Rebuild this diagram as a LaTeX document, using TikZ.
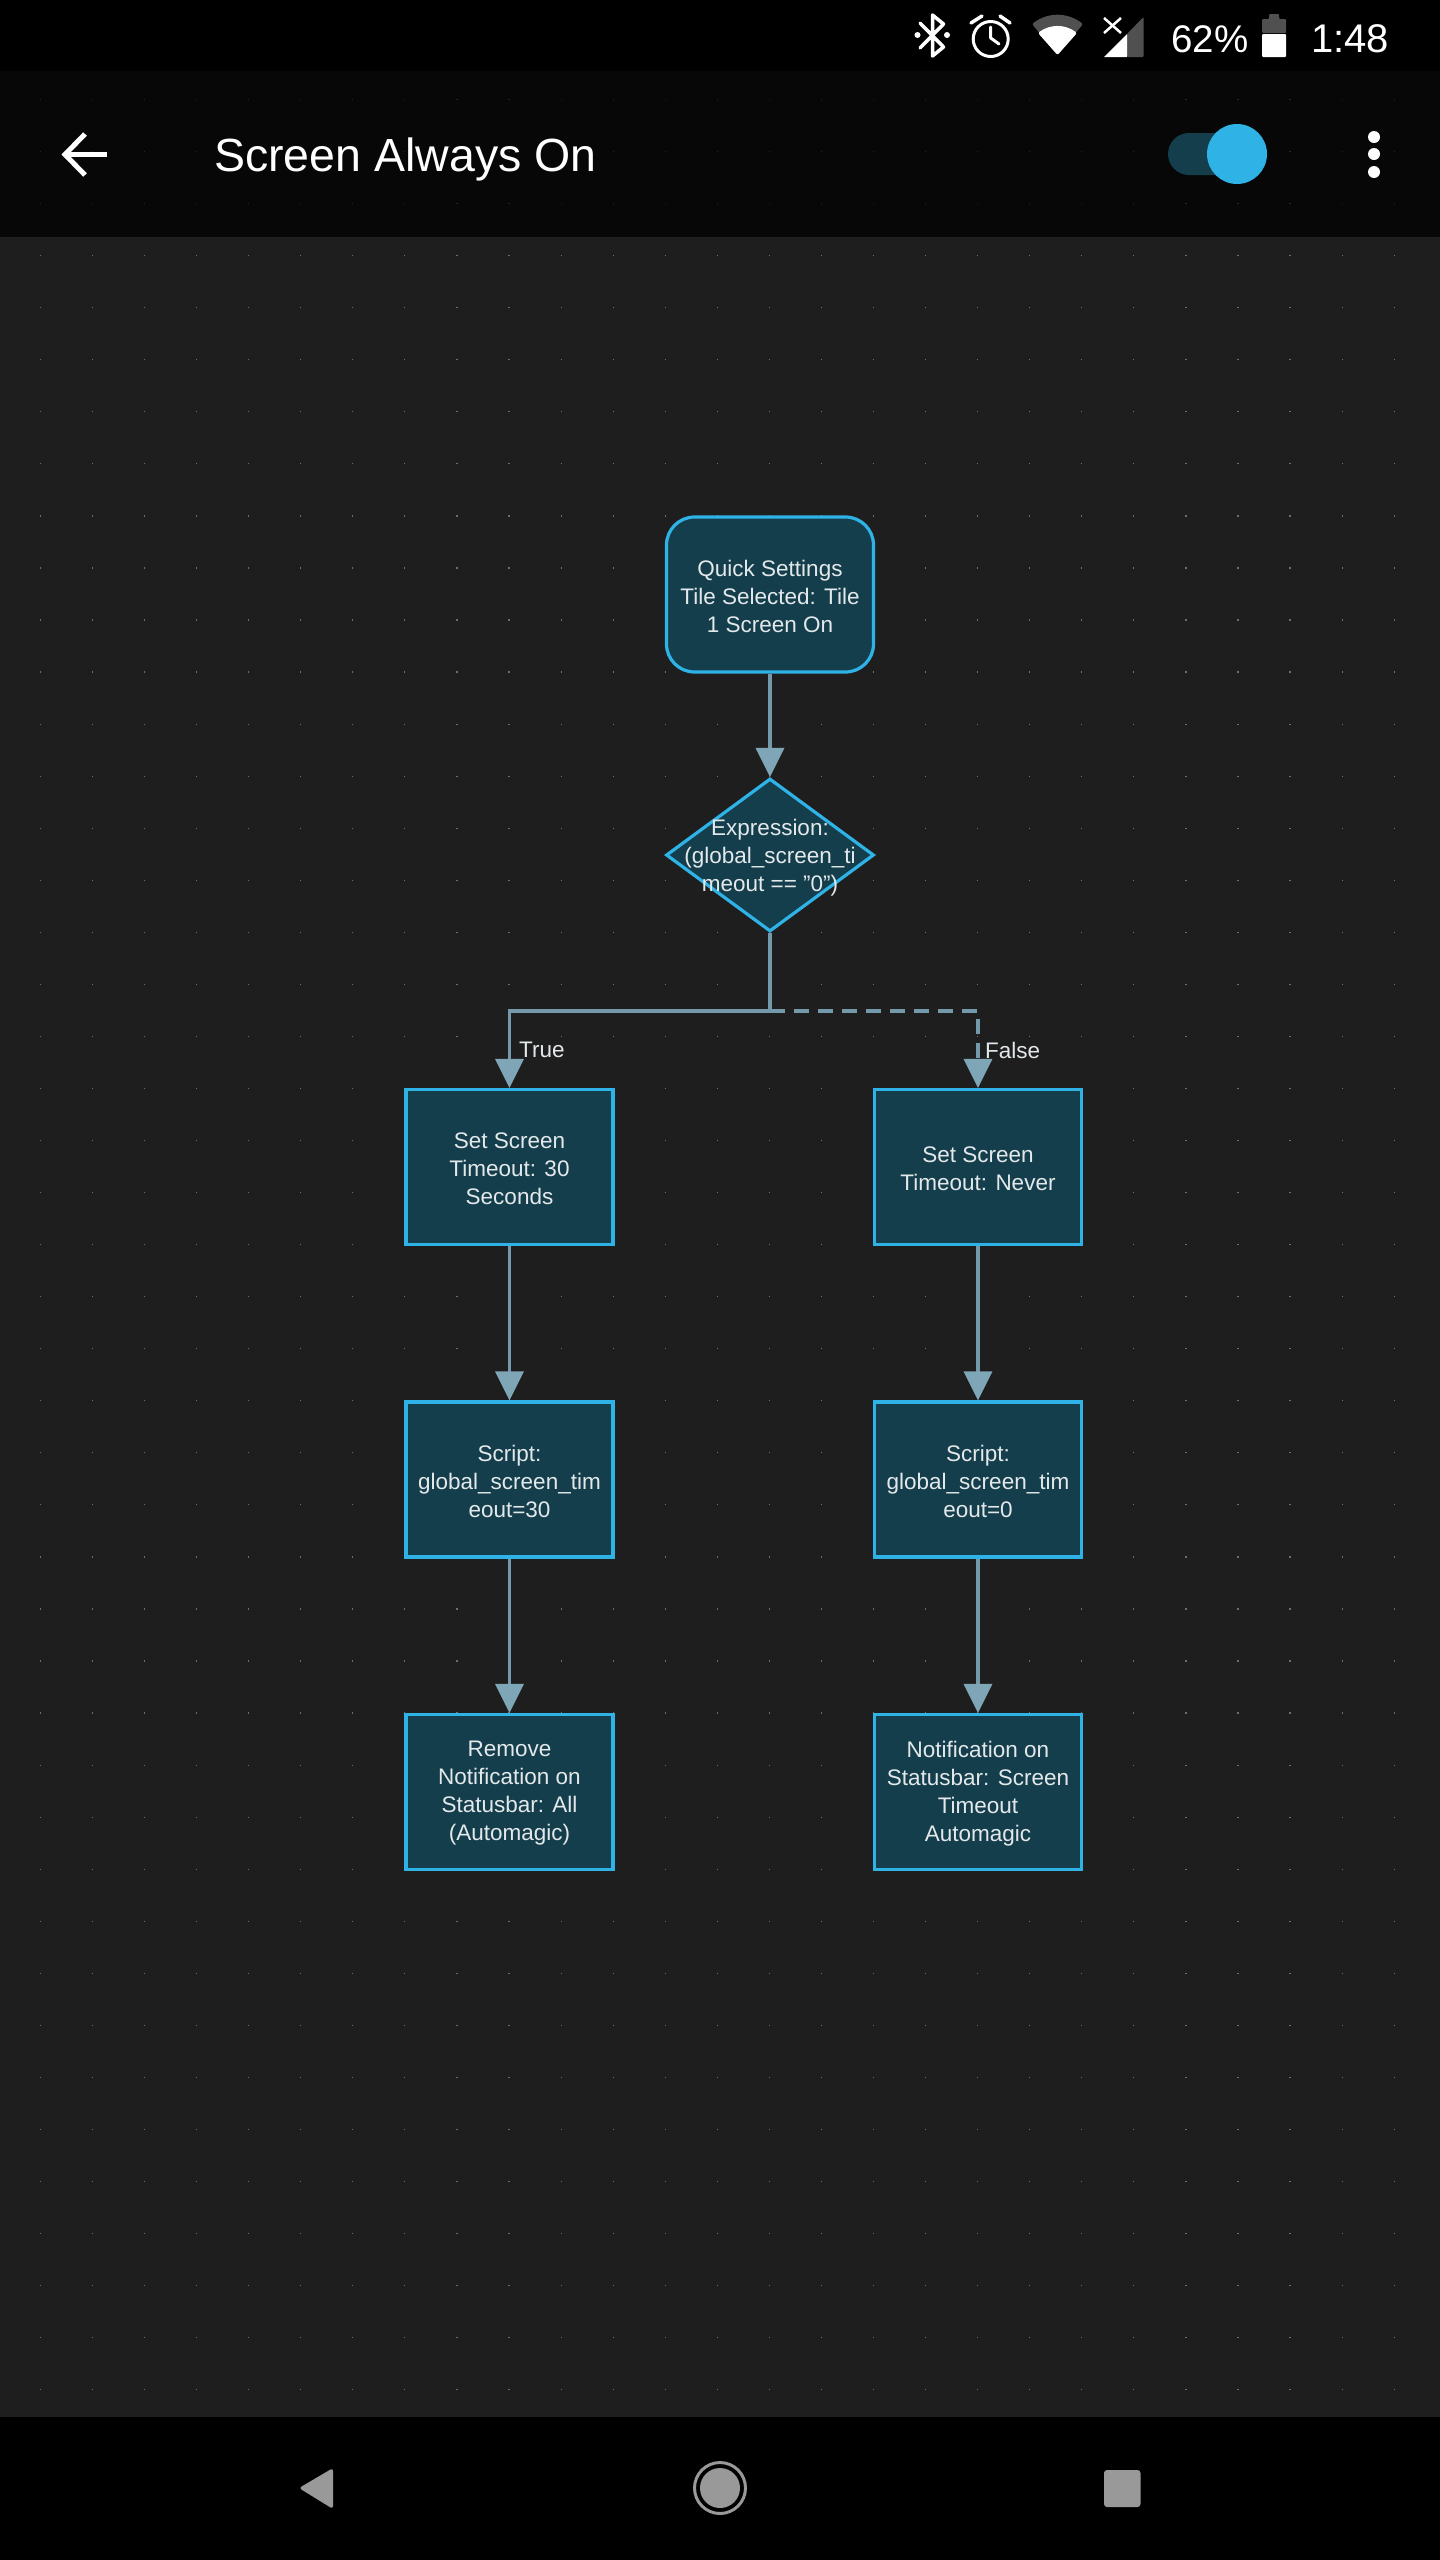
\documentclass[tikz,border=0pt]{standalone}
\usepackage{fontspec}
\setmainfont{Liberation Sans}
\usetikzlibrary{arrows.meta,shapes.geometric,positioning}
\definecolor{canvas}{HTML}{1E1E1E}
\definecolor{toolbar}{HTML}{070707}
\definecolor{griddot}{HTML}{6E6E6E}
\definecolor{griddim}{HTML}{262626}
\definecolor{nodefill}{HTML}{153E4C}
\definecolor{nodeline}{HTML}{2FB2E6}
\definecolor{edgeline}{HTML}{7399AA}
\definecolor{edgehead}{HTML}{7FA6B6}
\definecolor{nodetext}{HTML}{E3E9EB}
\definecolor{navgrey}{HTML}{999999}
\definecolor{statgrey}{HTML}{505050}
\tikzset{
  flowtext/.style={text=nodetext,font=\fontsize{22.5}{28}\selectfont,align=center,inner sep=0pt},
  actionbox/.style={draw=nodeline,fill=nodefill,line width=3.2pt,minimum width=207pt,minimum height=155pt,flowtext},
  startbox/.style={actionbox,rounded corners=28pt},
  decisionbox/.style={draw=nodeline,fill=nodefill,line width=3.2pt,shape=diamond,minimum width=208pt,minimum height=153pt,inner sep=0pt},
  edge/.style={draw=edgeline,line width=3.3pt,-{Triangle[length=29pt,width=28pt,color=edgehead]}},
  dashededge/.style={edge,dash pattern=on 15pt off 9pt},
  edgelabel/.style={text=nodetext,font=\fontsize{22.5}{28}\selectfont,inner sep=0pt,anchor=west},
  statustext/.style={text=white,inner sep=0pt,anchor=base west},
  icon/.style={draw=white,line width=3.5pt,line cap=round,line join=round},
}
\begin{document}
\begin{tikzpicture}[x=1pt,y=-1pt]
\useasboundingbox (0,0) rectangle (1440,2560);
% backgrounds
\fill[canvas] (0,0) rectangle (1440,2560);
\foreach \i in {0,...,26}{
  \foreach \j in {3,...,44}{
    \pgfmathsetmacro{\dx}{40.4+52.07*\i}
    \pgfmathsetmacro{\dy}{99.5+52.05*\j}
    \fill[griddot] (\dx-0.6,\dy-0.6) rectangle ++(1.2,1.2);
  }
}
\fill[black] (0,0) rectangle (1440,71);
\fill[toolbar] (0,71) rectangle (1440,237);
\foreach \i in {0,...,26}{
  \foreach \j in {0,1,2}{
    \pgfmathsetmacro{\dx}{40.4+52.07*\i}
    \pgfmathsetmacro{\dy}{99.5+52.05*\j}
    \fill[griddim] (\dx-0.6,\dy-0.6) rectangle ++(1.2,1.2);
  }
}
\fill[black] (0,2417) rectangle (1440,2560);
% status bar: bluetooth
\draw[icon] (920,23) -- (943.5,47) -- (932.5,56) -- (932.5,15) -- (943.5,24) -- (920,48);
\fill[white] (917.5,35) circle (3); \fill[white] (947,35) circle (3);
% alarm
\draw[icon,line width=3pt] (990.7,39) circle (17.5);
\draw[icon,line width=3pt] (990.7,27) -- (990.7,38) -- (999,44);
\draw[icon,line width=3.5pt] (971,23) -- (982,16);
\draw[icon,line width=3.5pt] (1000,16) -- (1010,23);
% wifi
\fill[statgrey,rounded corners=2pt] (1032,24) .. controls (1048,12) and (1067,12) .. (1083,24) -- (1057.5,55) -- cycle;
\fill[white,rounded corners=2pt] (1038,33) .. controls (1050,24) and (1065,24) .. (1077,33) -- (1057.5,55) -- cycle;
% signal
\fill[statgrey,rounded corners=1pt] (1143.5,17) -- (1143.5,57) -- (1127,57) -- (1127,34) -- cycle;
\fill[white] (1127,34) -- (1127,57) -- (1104,57) -- cycle;
\draw[icon,line width=2.5pt,line cap=butt] (1104,18) -- (1121,33);
\draw[icon,line width=2.5pt,line cap=butt] (1121,18) -- (1104,33);
% status text
\node[statustext,font=\fontsize{38.5}{40}\selectfont] (battpct) at (1171,52) {62\%};
\node[statustext,font=\fontsize{40}{40}\selectfont] (clock) at (1311,52) {1:48};
% battery
\fill[statgrey,rounded corners=1pt] (1262,33) -- (1262,19) -- (1269,19) -- (1269,14) -- (1279,14) -- (1279,19) -- (1286,19) -- (1286,33) -- cycle;
\fill[white,rounded corners=1pt] (1262,34) rectangle (1286,57);
% toolbar
\draw[white,line width=5pt] (107,154) -- (66,154);
\draw[white,line width=5pt,line join=miter] (85,134) -- (65,154.5) -- (85,175);
\node[statustext,font=\fontsize{46.5}{50}\selectfont] (title) at (214,171) {Screen Always On};
\fill[nodefill,rounded corners=21pt] (1168,133) rectangle (1250,175);
\fill[nodeline] (1237,154) circle (30);
\fill[white] (1374,137) circle (6);
\fill[white] (1374,154) circle (6);
\fill[white] (1374,172) circle (6);
% flow nodes
\node[startbox] (start) at (770,594.5) {};
\node[flowtext] (starttext) at (770,596) {Quick Settings\\Tile Selected: Tile\\1 Screen On};
\node[decisionbox] (dec) at (770,855) {};
\node[flowtext] (dectext) at (770,858) {Expression:\\(global\_screen\_ti\\meout == "0")};
\node[actionbox] (setA) at (509.5,1167) {};
\node[flowtext] (setAtext) at (509.5,1168.5) {Set Screen\\Timeout: 30\\Seconds};
\node[actionbox] (setB) at (978,1167) {};
\node[flowtext] (setBtext) at (978,1168.5) {Set Screen\\Timeout: Never};
\node[actionbox] (scriptA) at (509.5,1479.5) {};
\node[flowtext] (scriptAtext) at (509.5,1481) {Script:\\global\_screen\_tim\\eout=30};
\node[actionbox] (scriptB) at (978,1479.5) {};
\node[flowtext] (scriptBtext) at (978,1481) {Script:\\global\_screen\_tim\\eout=0};
\node[actionbox] (notifA) at (509.5,1792) {};
\node[flowtext] (notifAtext) at (509.5,1793.5) {Remove\\Notification on\\Statusbar: All\\(Automagic)};
\node[actionbox] (notifB) at (978,1792) {};
\node[flowtext] (notifBtext) at (978,1793.5) {Notification on\\Statusbar: Screen\\Timeout\\Automagic};
% connectors
\coordinate (split) at (770,1011);
\draw[edge] (start) -- (dec);
\draw[dashededge] (split) -| (setB);
\draw[edge] (dec) -- (split) -| (setA);
\draw[edge] (setA) -- (scriptA);
\draw[edge] (scriptA) -- (notifA);
\draw[edge] (setB) -- (scriptB);
\draw[edge] (scriptB) -- (notifB);
\node[edgelabel] (truelabel) at (519,1050) {True};
\node[edgelabel] (falselabel) at (985,1050) {False};
% navigation bar
\fill[navgrey,rounded corners=3pt] (333,2468) -- (333,2509) -- (299,2488) -- cycle;
\draw[navgrey,line width=3pt] (720,2488) circle (25.5);
\fill[navgrey] (720,2488) circle (20);
\fill[navgrey,rounded corners=3pt] (1104,2470) rectangle (1140.5,2507);
\end{tikzpicture}
\end{document}
